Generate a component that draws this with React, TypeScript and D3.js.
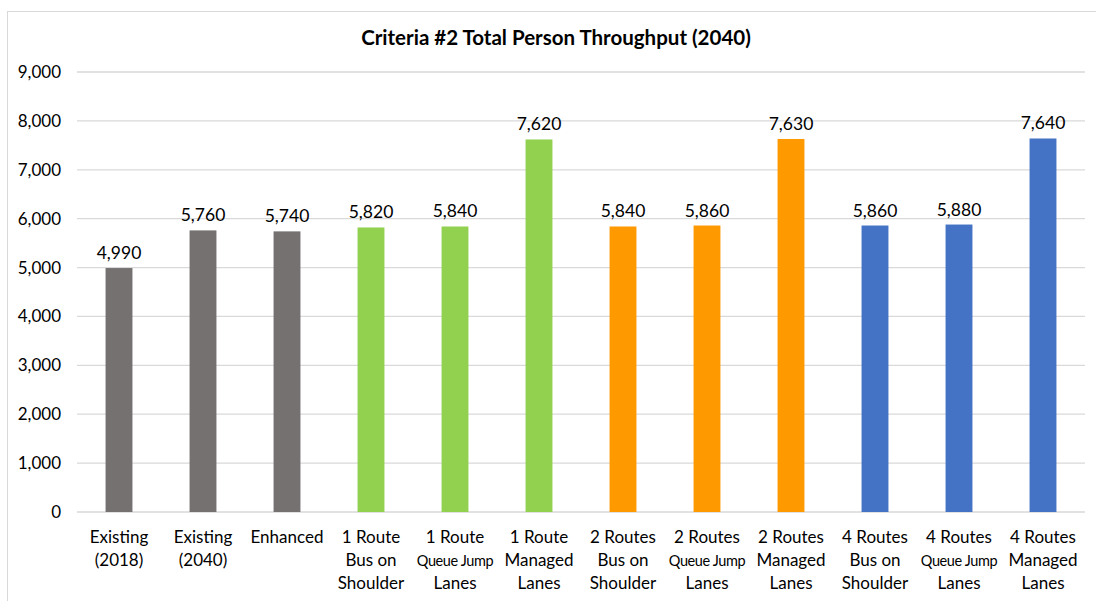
import React from "react";
import * as d3 from "d3";

const categories: string[][] = [
  ["Existing", "(2018)"],
  ["Existing", "(2040)"],
  ["Enhanced"],
  ["1 Route", "Bus on", "Shoulder"],
  ["1 Route", "Queue Jump", "Lanes"],
  ["1 Route", "Managed", "Lanes"],
  ["2 Routes", "Bus on", "Shoulder"],
  ["2 Routes", "Queue Jump", "Lanes"],
  ["2 Routes", "Managed", "Lanes"],
  ["4 Routes", "Bus on", "Shoulder"],
  ["4 Routes", "Queue Jump", "Lanes"],
  ["4 Routes", "Managed", "Lanes"],
];
const values: number[] = [4990, 5760, 5740, 5820, 5840, 7620, 5840, 5860, 7630, 5860, 5880, 7640];
const groups: string[] = ["base", "base", "base", "r1", "r1", "r1", "r2", "r2", "r2", "r4", "r4", "r4"];
const yTicks: number[] = [0, 1000, 2000, 3000, 4000, 5000, 6000, 7000, 8000, 9000];
const title = "Criteria #2 Total Person Throughput (2040)";

const colorMap: Record<string, string> = {
  base: "#767171",
  r1: "#92D050",
  r2: "#FF9900",
  r4: "#4472C4",
};

export default function App() {
  const W = 1096, H = 601;
  const left = 77, right = 1085, top = 72, bottom = 512;
  const x = d3.scaleBand<number>().domain(d3.range(categories.length)).range([left, right]).paddingInner(0.68).paddingOuter(0.34);
  const y = d3.scaleLinear().domain([0, 9000]).range([bottom, top]);
  const fmt = d3.format(",");
  const font = "Lato, 'Open Sans', sans-serif";
  return (
    <svg width={W} height={H} style={{ position: "absolute", left: 0, top: 0, background: "#fff" }}>
      <rect x={7.5} y={11.5} width={1200} height={700} fill="#fff" stroke="#d9d9d9" />
      <text x={556} y={45} textAnchor="middle" fontFamily={font} fontWeight="bold" fontSize={20.5} fill="#000">{title}</text>
      {yTicks.map((t) => (
        <g key={t}>
          <line x1={left} x2={right} y1={y(t)} y2={y(t)} stroke="#d9d9d9" strokeWidth={1.3} />
          <text x={61} y={y(t) + 6} textAnchor="end" fontFamily={font} fontSize={17} fill="#000">{fmt(t)}</text>
        </g>
      ))}
      {values.map((v, i) => {
        const bx = x(i)!;
        const cx = bx + x.bandwidth() / 2;
        return (
          <g key={i}>
            <rect x={bx} y={y(v)} width={x.bandwidth()} height={y(0) - y(v)} fill={colorMap[groups[i]]} />
            <text x={cx} y={y(v) - 9} textAnchor="middle" fontFamily={font} fontSize={17.5} fill="#000">{fmt(v)}</text>
            {categories[i].map((ln, j) => {
              const small = ln === "Queue Jump";
              return (
                <text key={j} x={cx} y={543 + j * 23} textAnchor="middle" fontFamily={font}
                  fontSize={small ? 14.5 : 17} letterSpacing={small ? -0.4 : 0} fill="#000">{ln}</text>
              );
            })}
          </g>
        );
      })}
    </svg>
  );
}
